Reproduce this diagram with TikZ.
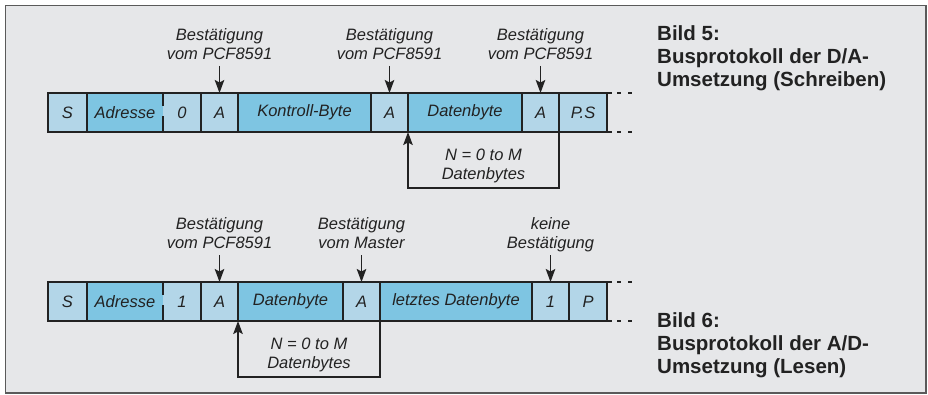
\documentclass[tikz,border=0pt]{standalone}
\usepackage{fontspec}
\setmainfont{Liberation Sans}
\usetikzlibrary{arrows.meta,calc}

\definecolor{bg}{HTML}{E6E7E9}
\definecolor{framegray}{HTML}{5A5A5A}
\definecolor{ink}{HTML}{222222}
\definecolor{lightblue}{HTML}{B3D6E8}
\definecolor{darkblue}{HTML}{7EC5E2}

\newcommand{\cellfont}{\fontsize{16.5}{19}\selectfont\itshape}
\newcommand{\notefont}{\fontsize{16.5}{19}\selectfont\itshape}
\newcommand{\capfont}{\fontsize{20.5}{23}\selectfont\bfseries}

\tikzset{
  cell/.style={inner sep=0pt, outer sep=0pt, minimum height=39pt, anchor=north west,
               font=\cellfont, text=ink},
  lt/.style={cell, fill=lightblue},
  dk/.style={cell, fill=darkblue},
  barline/.style={draw=ink, line width=2.2pt, line cap=rect},
  enddash/.style={draw=ink, line width=2pt, dash pattern=on 4pt off 7pt},
  ackarrow/.style={draw=ink, line width=1.5pt,
                   -{Stealth[length=13pt, width=9.5pt, inset=2.5pt]}},
  repline/.style={ackarrow},
  note/.style={inner sep=0pt, align=center, font=\notefont, text=ink},
  caption/.style={inner sep=0pt, align=left, anchor=north west, font=\capfont, text=ink}
}

\begin{document}
\begin{tikzpicture}[x=1pt, y=-1pt]
\useasboundingbox (0,0) rectangle (928,395);

% panel
\draw[draw=framegray, line width=1.5pt, fill=bg] (5.5,5.5) rectangle (926,393);

% ---------- write sequence (D/A) ----------
\node[lt, minimum width=39pt]  (s1)  at (48,93)  {S};
\node[dk, minimum width=76pt]  (ad1) at (87,93)  {Adresse};
\node[lt, minimum width=38pt]  (r1)  at (163,93) {0};
\node[lt, minimum width=37pt]  (a11) at (201,93) {A};
\node[dk, minimum width=133pt] (kb)  at (238,93) {Kontroll-Byte};
\node[lt, minimum width=37pt]  (a12) at (371,93) {A};
\node[dk, minimum width=114pt] (db1) at (408,93) {Datenbyte};
\node[lt, minimum width=37pt]  (a13) at (522,93) {A};
\node[lt, minimum width=48pt]  (ps)  at (559,93) {P.S};

\draw[barline] (s1.north west) -- ([xshift=4pt]ps.north east);
\draw[barline] (s1.south west) -- ([xshift=4pt]ps.south east);
\draw[barline] (s1.north west) -- (s1.south west);
\foreach \n in {s1,r1,a11,kb,a12,db1,a13}
  \draw[barline] (\n.north east) -- (\n.south east);
\draw[barline] (ad1.north east) -- ++(0,12) (ad1.south east) -- ++(0,-15);
\draw[barline, line width=2.8pt] (ps.north east) -- (ps.south east);
\draw[enddash] ([xshift=10pt]ps.north east) -- ++(17,0);
\draw[enddash] ([xshift=10pt]ps.south east) -- ++(17,0);

\node[note, anchor=north] (l11) at ([yshift=65pt]a11.north) {Bestätigung\\vom PCF8591};
\node[note, anchor=north] (l12) at ([yshift=65pt]a12.north) {Bestätigung\\vom PCF8591};
\node[note, anchor=north] (l13) at ([yshift=65pt]a13.north) {Bestätigung\\vom PCF8591};
\coordinate (t11) at ([yshift=27pt]a11.north);
\coordinate (t12) at ([yshift=27pt]a12.north);
\coordinate (t13) at ([yshift=27pt]a13.north);
\draw[ackarrow] (t11) -- (a11.north);
\draw[ackarrow] (t12) -- (a12.north);
\draw[ackarrow] (t13) -- (a13.north);

\draw[repline] (a13.south east) -- ++(0,56) -| (db1.south west);
\node[note] (rep1) at ($(db1.south west)!0.5!(a13.south east) + (0,34)$)
  {N = 0 to M\\Datenbytes};

\node[caption] (cap5) at (657,25) {Bild 5:\\Busprotokoll der D/A-\\Umsetzung (Schreiben)};

% ---------- read sequence (A/D) ----------
\node[lt, minimum width=39pt]  (s2)  at (48,282)  {S};
\node[dk, minimum width=76pt]  (ad2) at (87,282)  {Adresse};
\node[lt, minimum width=38pt]  (r2)  at (163,282) {1};
\node[lt, minimum width=37pt]  (a21) at (201,282) {A};
\node[dk, minimum width=105pt] (db2) at (238,282) {Datenbyte};
\node[lt, minimum width=37pt]  (a22) at (343,282) {A};
\node[dk, minimum width=152pt] (ldb) at (380,282) {letztes Datenbyte};
\node[lt, minimum width=37pt]  (n2)  at (532,282) {1};
\node[lt, minimum width=38pt]  (p2)  at (569,282) {P};

\draw[barline] (s2.north west) -- ([xshift=4pt]p2.north east);
\draw[barline] (s2.south west) -- ([xshift=4pt]p2.south east);
\draw[barline] (s2.north west) -- (s2.south west);
\foreach \n in {s2,r2,a21,db2,a22,ldb,n2}
  \draw[barline] (\n.north east) -- (\n.south east);
\draw[barline] (ad2.north east) -- ++(0,12) (ad2.south east) -- ++(0,-15);
\draw[barline, line width=2.8pt] (p2.north east) -- (p2.south east);
\draw[enddash] ([xshift=10pt]p2.north east) -- ++(17,0);
\draw[enddash] ([xshift=10pt]p2.south east) -- ++(17,0);

\node[note, anchor=north] (l21) at ([yshift=65pt]a21.north) {Bestätigung\\vom PCF8591};
\node[note, anchor=north] (l22) at ([yshift=65pt]a22.north) {Bestätigung\\vom Master};
\node[note, anchor=north] (l23) at ([yshift=65pt]n2.north)  {keine\\Bestätigung};
\coordinate (t21) at ([yshift=27pt]a21.north);
\coordinate (t22) at ([yshift=27pt]a22.north);
\coordinate (t23) at ([yshift=27pt]n2.north);
\draw[ackarrow] (t21) -- (a21.north);
\draw[ackarrow] (t22) -- (a22.north);
\draw[ackarrow] (t23) -- (n2.north);

\draw[repline] (a22.south east) -- ++(0,56) -| (db2.south west);
\node[note] (rep2) at ($(db2.south west)!0.5!(a22.south east) + (0,34)$)
  {N = 0 to M\\Datenbytes};

\node[caption] (cap6) at (657,312) {Bild 6:\\Busprotokoll der A/D-\\Umsetzung (Lesen)};
\end{tikzpicture}
\end{document}
